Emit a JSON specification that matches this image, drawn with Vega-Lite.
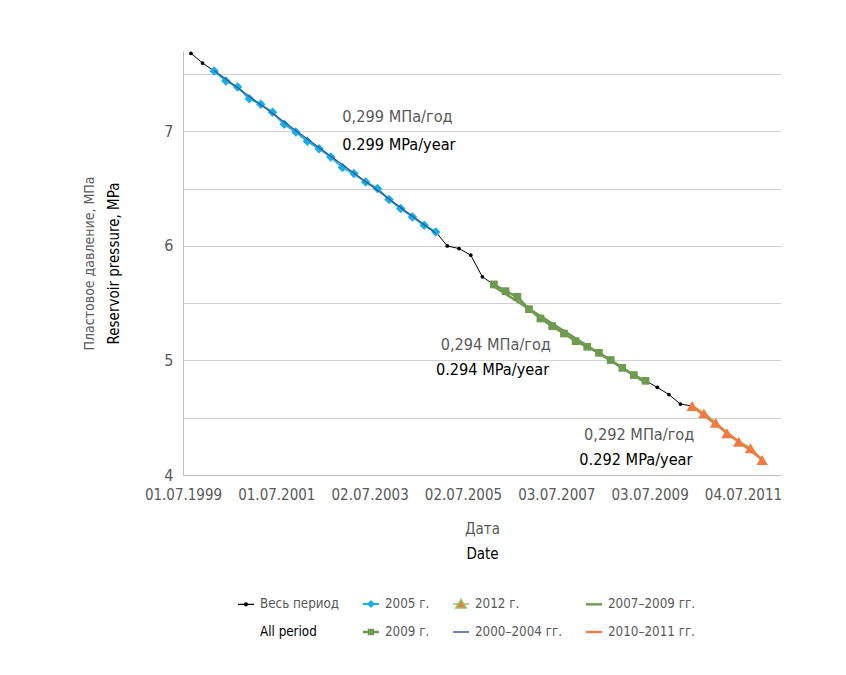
{
  "$schema": "https://vega.github.io/schema/vega-lite/v6.json",
  "width": 598,
  "height": 424,
  "autosize": "none",
  "padding": {"left": 183, "top": 51, "right": 65, "bottom": 200},
  "background": "white",
  "config": {
    "font": "Liberation Sans Narrow, DejaVu Sans Condensed, sans-serif",
    "view": {"stroke": null},
    "axis": {"titleFontWeight": "normal", "labelFont": "Liberation Sans Narrow, DejaVu Sans Condensed, sans-serif", "titleFont": "Liberation Sans Narrow, DejaVu Sans Condensed, sans-serif"},
    "legend": {"labelFont": "Liberation Sans Narrow, DejaVu Sans Condensed, sans-serif"}
  },
  "datasets": {
    "pts": [
      {"d": "1999-09-01", "p": 7.68, "g": "k"},
      {"d": "1999-12-01", "p": 7.595, "g": "k"},
      {"d": "2000-03-01", "p": 7.525, "g": "b"},
      {"d": "2000-06-01", "p": 7.438, "g": "b"},
      {"d": "2000-09-01", "p": 7.385, "g": "b"},
      {"d": "2000-12-01", "p": 7.284, "g": "b"},
      {"d": "2001-03-01", "p": 7.235, "g": "b"},
      {"d": "2001-06-01", "p": 7.165, "g": "b"},
      {"d": "2001-09-01", "p": 7.06, "g": "b"},
      {"d": "2001-12-01", "p": 6.993, "g": "b"},
      {"d": "2002-03-01", "p": 6.912, "g": "b"},
      {"d": "2002-06-01", "p": 6.848, "g": "b"},
      {"d": "2002-09-01", "p": 6.775, "g": "b"},
      {"d": "2002-12-01", "p": 6.683, "g": "b"},
      {"d": "2003-03-01", "p": 6.63, "g": "b"},
      {"d": "2003-06-01", "p": 6.557, "g": "b"},
      {"d": "2003-09-01", "p": 6.5, "g": "b"},
      {"d": "2003-12-01", "p": 6.404, "g": "b"},
      {"d": "2004-03-01", "p": 6.325, "g": "b"},
      {"d": "2004-06-01", "p": 6.252, "g": "b"},
      {"d": "2004-09-01", "p": 6.18, "g": "b"},
      {"d": "2004-12-01", "p": 6.121, "g": "b"},
      {"d": "2005-03-01", "p": 5.999, "g": "k"},
      {"d": "2005-06-01", "p": 5.976, "g": "k"},
      {"d": "2005-09-01", "p": 5.918, "g": "k"},
      {"d": "2005-12-01", "p": 5.729, "g": "k"},
      {"d": "2006-03-01", "p": 5.663, "g": "g"},
      {"d": "2006-06-01", "p": 5.604, "g": "g"},
      {"d": "2006-09-01", "p": 5.555, "g": "g"},
      {"d": "2006-12-01", "p": 5.447, "g": "g"},
      {"d": "2007-03-01", "p": 5.366, "g": "g"},
      {"d": "2007-06-01", "p": 5.299, "g": "g"},
      {"d": "2007-09-01", "p": 5.235, "g": "g"},
      {"d": "2007-12-01", "p": 5.168, "g": "g"},
      {"d": "2008-03-01", "p": 5.119, "g": "g"},
      {"d": "2008-06-01", "p": 5.066, "g": "g"},
      {"d": "2008-09-01", "p": 5.003, "g": "g"},
      {"d": "2008-12-01", "p": 4.935, "g": "g"},
      {"d": "2009-03-01", "p": 4.872, "g": "g"},
      {"d": "2009-06-01", "p": 4.822, "g": "g"},
      {"d": "2009-09-01", "p": 4.765, "g": "k"},
      {"d": "2009-12-01", "p": 4.702, "g": "k"},
      {"d": "2010-03-01", "p": 4.619, "g": "k"},
      {"d": "2010-06-01", "p": 4.602, "g": "o"},
      {"d": "2010-09-01", "p": 4.538, "g": "o"},
      {"d": "2010-12-01", "p": 4.456, "g": "o"},
      {"d": "2011-03-01", "p": 4.364, "g": "o"},
      {"d": "2011-06-01", "p": 4.29, "g": "o"},
      {"d": "2011-09-01", "p": 4.233, "g": "o"},
      {"d": "2011-12-01", "p": 4.131, "g": "o"}
    ],
    "fits": [
      {"f": "2000–2004 гг.", "d": "2000-03-01", "p": 7.53},
      {"f": "2000–2004 гг.", "d": "2004-12-01", "p": 6.11},
      {"f": "2007–2009 гг.", "d": "2006-03-01", "p": 5.645},
      {"f": "2007–2009 гг.", "d": "2009-06-01", "p": 4.805},
      {"f": "2010–2011 гг.", "d": "2010-06-01", "p": 4.6},
      {"f": "2010–2011 гг.", "d": "2011-12-01", "p": 4.135}
    ],
    "ann": [
      {"d": "2002-11-30", "p": 7.126, "t": "0,299 МПа/год", "lang": "ru"},
      {"d": "2002-11-30", "p": 6.878, "t": "0.299 MPa/year", "lang": "en"},
      {"d": "2005-01-08", "p": 5.134, "t": "0,294 МПа/год", "lang": "ru"},
      {"d": "2004-12-02", "p": 4.916, "t": "0.294 MPa/year", "lang": "en"},
      {"d": "2008-02-05", "p": 4.349, "t": "0,292 МПа/год", "lang": "ru"},
      {"d": "2007-12-30", "p": 4.131, "t": "0.292 MPa/year", "lang": "en"}
    ],
    "leg": [
      {"k": "Весь период"}
    ]
  },
  "layer": [
    {
      "data": {"name": "pts"},
      "encoding": {
        "x": {
          "field": "d", "type": "temporal",
          "scale": {"type": "utc", "domain": [{"year": 1999, "month": 7, "date": 1, "utc": true}, {"year": 2012, "month": 4, "date": 27, "utc": true}]},
          "axis": {
            "orient": "bottom",
            "values": [
              {"year": 1999, "month": 7, "date": 1, "utc": true},
              {"year": 2001, "month": 7, "date": 1, "utc": true},
              {"year": 2003, "month": 7, "date": 2, "utc": true},
              {"year": 2005, "month": 7, "date": 2, "utc": true},
              {"year": 2007, "month": 7, "date": 3, "utc": true},
              {"year": 2009, "month": 7, "date": 3, "utc": true},
              {"year": 2011, "month": 7, "date": 4, "utc": true}
            ],
            "format": "%d.%m.%Y",
            "grid": false, "ticks": false, "labelOverlap": false, "labelFlush": false, "labelBound": false,
            "domainColor": "#bfbfbf", "labelColor": "#595959", "labelFontSize": 15, "labelPadding": 12,
            "title": "Дата", "titleColor": "#595959", "titleFontSize": 15, "titlePadding": 19, "minExtent": 0
          }
        },
        "y": {
          "field": "p", "type": "quantitative",
          "scale": {"domain": [4, 7.7], "nice": false, "zero": false},
          "axis": {
            "orient": "left",
            "values": [4, 4.5, 5, 5.5, 6, 6.5, 7, 7.5],
            "labelExpr": "datum.value % 1 ? '' : format(datum.value, 'd')",
            "grid": true, "gridColor": "#d0d0d0", "ticks": false,
            "domainColor": "#bfbfbf", "labelColor": "#595959", "labelFontSize": 16, "labelPadding": 10,
            "title": "Reservoir pressure, MPa", "titleColor": "#000000", "titleFontSize": 15, "titlePadding": 42, "minExtent": 0
          }
        }
      },
      "layer": [
        {"mark": {"type": "line", "color": "#000000", "strokeWidth": 1}, "encoding": {}},
        {"mark": {"type": "point", "shape": "circle", "filled": true, "size": 14, "color": "#000000", "opacity": 1}},
        {"transform": [{"filter": "datum.g === 'b'"}], "mark": {"type": "line", "color": "#1aaee6", "strokeWidth": 2}, "encoding": {}},
        {"transform": [{"filter": "datum.g === 'b'"}], "mark": {"type": "point", "shape": "diamond", "filled": true, "size": 90, "color": "#1aaee6", "opacity": 1}},
        {"transform": [{"filter": "datum.g === 'g'"}], "mark": {"type": "line", "color": "#6e9b50", "strokeWidth": 2.5}, "encoding": {}},
        {"transform": [{"filter": "datum.g === 'g'"}], "mark": {"type": "point", "shape": "square", "filled": true, "size": 60, "color": "#6e9b50", "opacity": 1}},
        {"transform": [{"filter": "datum.g === 'o'"}], "mark": {"type": "line", "color": "#8fc66b", "strokeWidth": 2.5}, "encoding": {}},
        {"transform": [{"filter": "datum.g === 'o'"}], "mark": {"type": "point", "shape": "triangle-up", "filled": true, "size": 130, "color": "#f07a40", "opacity": 1}},
        {"data": {"name": "fits"}, "transform": [{"filter": "datum.f === '2000–2004 гг.'"}], "mark": {"type": "line", "color": "#2e5597", "strokeWidth": 1.3}, "encoding": {}},
        {"data": {"name": "fits"}, "transform": [{"filter": "datum.f === '2007–2009 гг.'"}], "mark": {"type": "line", "color": "#6e9b50", "strokeWidth": 2.5}, "encoding": {}},
        {"data": {"name": "fits"}, "transform": [{"filter": "datum.f === '2010–2011 гг.'"}], "mark": {"type": "line", "color": "#f07a40", "strokeWidth": 2.5}, "encoding": {}}
      ]
    },
    {
      "data": {"name": "ann"},
      "encoding": {
        "x": {
          "field": "d", "type": "temporal",
          "axis": {"orient": "bottom", "title": "Date", "titleColor": "#000000", "titleFontSize": 15, "labels": false, "ticks": false, "domain": false, "grid": false, "titlePadding": 71, "minExtent": 0}
        },
        "y": {
          "field": "p", "type": "quantitative",
          "axis": {"orient": "left", "title": "Пластовое давление, МПа", "titleColor": "#595959", "titleFontSize": 14, "labels": false, "ticks": false, "domain": false, "grid": false, "titlePadding": 87, "minExtent": 0}
        },
        "text": {"field": "t"}
      },
      "layer": [
        {"transform": [{"filter": "datum.lang === 'ru'"}], "mark": {"type": "text", "align": "left", "baseline": "middle", "fontSize": 16.2, "color": "#595959"}},
        {"transform": [{"filter": "datum.lang === 'en'"}], "mark": {"type": "text", "align": "left", "baseline": "middle", "fontSize": 16.2, "color": "#000000"}}
      ]
    },
    {
      "data": {"name": "leg"},
      "transform": [{"filter": "false"}],
      "mark": {"type": "point", "filled": true, "opacity": 1},
      "encoding": {
        "fill": {
          "field": "k", "type": "nominal",
          "scale": {
            "domain": ["Весь период", "2005 г.", "2012 г.", "2007–2009 гг.", "All period", "2009 г.", "2000–2004 гг.", "2010–2011 гг."],
            "range": ["#000000", "#1aaee6", "#f07a40", "#6e9b50", "transparent", "#6e9b50", "#2e5597", "#f07a40"]
          },
          "legend": {
            "title": null, "orient": "none", "legendX": 54, "legendY": 544, "padding": 0,
            "columns": 4, "direction": "horizontal", "gridAlign": "each",
            "columnPadding": 20, "rowPadding": 12, "symbolSize": 256, "symbolStrokeWidth": 1.5,
            "labelOffset": 5, "labelFontSize": 13.3, "labelLimit": 300,
            "labelColor": {"expr": "datum.label === 'All period' ? '#000000' : '#595959'"}
          }
        },
        "stroke": {
          "field": "k", "type": "nominal",
          "scale": {
            "domain": ["Весь период", "2005 г.", "2012 г.", "2007–2009 гг.", "All period", "2009 г.", "2000–2004 гг.", "2010–2011 гг."],
            "range": ["transparent", "transparent", "#8fc66b", "transparent", "transparent", "transparent", "transparent", "transparent"]
          },
          "legend": {"title": null}
        },
        "shape": {
          "field": "k", "type": "nominal",
          "scale": {
            "domain": ["Весь период", "2005 г.", "2012 г.", "2007–2009 гг.", "All period", "2009 г.", "2000–2004 гг.", "2010–2011 гг."],
            "range": [
              "M-1,-0.07H1V0.07H-1Z M-0.26,0A0.26,0.26 0 1,1 0.26,0A0.26,0.26 0 1,1 -0.26,0Z",
              "M-1,-0.13H1V0.13H-1Z M0,-0.5L0.5,0L0,0.5L-0.5,0Z",
              "M-1,0H-0.36 M0.36,0H1 M0,-0.56L0.66,0.5L-0.66,0.5Z",
              "M-1,-0.15H1V0.15H-1Z",
              "M0,0H0.01V0.01H0Z",
              "M-1,-0.15H1V0.15H-1Z M-0.4,-0.4H0.4V0.4H-0.4Z",
              "M-1,-0.09H1V0.09H-1Z",
              "M-1,-0.15H1V0.15H-1Z"
            ]
          },
          "legend": {"title": null}
        }
      }
    }
  ],
  "resolve": {"axis": {"x": "independent", "y": "independent"}}
}
